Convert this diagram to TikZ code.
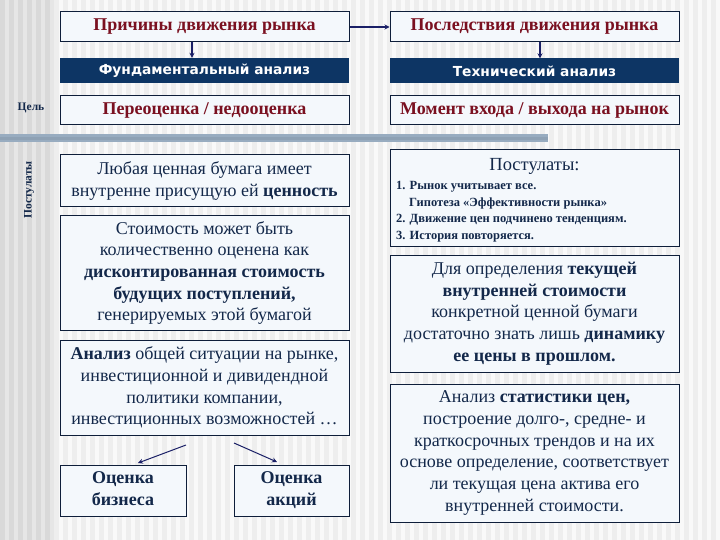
\documentclass[tikz,border=0pt]{standalone}
\usepackage{fontspec}
\setmainfont{Liberation Serif}
\newfontfamily\barfont{DejaVu Sans}
\usetikzlibrary{arrows.meta,calc}
\definecolor{navy}{HTML}{13284A}
\definecolor{linecol}{HTML}{0E1E3A}
\definecolor{darkred}{HTML}{7A1020}
\definecolor{barfill}{HTML}{0D3564}
\definecolor{arrowcol}{HTML}{1A1F66}
\definecolor{bgmain}{HTML}{EEEEEE}
\definecolor{bgleft}{HTML}{D9D9D9}
\definecolor{sepbar}{HTML}{98ACC0}
\definecolor{boxfill}{HTML}{F4F8FC}
\tikzset{
  box/.style={draw=linecol, line width=1pt, fill=boxfill, inner sep=0pt, align=center, text=navy,
              font=\fontsize{18}{21.7}\selectfont},
  titlebox/.style={box, text=darkred, font=\fontsize{18}{20}\selectfont\bfseries},
  darkbar/.style={fill=barfill, inner sep=0pt, text=white, font=\barfont\fontsize{13.8}{16}\selectfont\bfseries},
  conn/.style={draw=arrowcol, line width=1.4pt, -{Stealth[length=5pt,width=5pt]}},
  sidelabel/.style={text=navy, font=\fontsize{11.5}{13}\selectfont\bfseries, inner sep=0pt}
}
\begin{document}
\begin{tikzpicture}[x=1pt,y=-1pt]
\useasboundingbox (0,0) rectangle (720,540);
% background
\fill[bgmain] (0,0) rectangle (720,540);
\foreach \i in {0,...,79} \fill[white,opacity=0.7] (\i*9+4.5,0) rectangle ++(4.5,540);
\fill[bgleft] (0,0) rectangle (54,540);
\foreach \i in {0,...,5} \fill[white,opacity=0.35] (\i*9+4.5,0) rectangle ++(4.5,540);
\fill[sepbar] (0,134) rectangle (548,142);
\fill[sepbar!80!black,opacity=0.3] (0,137) rectangle (548,140);

% top row
\node[titlebox, minimum width=289pt, minimum height=30pt] (cause) at (204.5,27) {Причины движения рынка};
\node[titlebox, minimum width=289pt, minimum height=30pt] (effect) at (534.5,27) {Последствия движения рынка};
\node[darkbar, minimum width=289pt, minimum height=25pt] (fund) at (204.5,70.5) {Фундаментальный анализ};
\node[darkbar, minimum width=289pt, minimum height=25pt] (tech) at (534.5,71) {Технический анализ};
\node[titlebox, minimum width=289pt, minimum height=29pt] (goalL) at (204.5,110.5) {Переоценка / недооценка};
\node[titlebox, minimum width=289pt, minimum height=29pt] (goalR) at (534.5,110.5) {Момент входа / выхода на рынок};

\node[sidelabel] (goal) at (31,108) {Цель};
\node[sidelabel, rotate=90] (post) at (29,190) {Постулаты};

\draw[conn] (cause.east) -- (effect.west);
\draw[conn] ([xshift=-12.5pt]cause.south) -- ([xshift=-12.5pt]fund.north);
\draw[conn] ([xshift=5.5pt]effect.south) -- ([xshift=5.5pt]tech.north);

% left column
\node[box, minimum width=289pt, minimum height=52pt] (p1) at (204.5,181)
  {Любая ценная бумага имеет\\ внутренне присущую ей \textbf{ценность}};
\node[box, minimum width=289pt, minimum height=114pt] (p2) at (204.5,273)
  {Стоимость может быть\\ количественно оценена как\\ \textbf{дисконтированная стоимость}\\ \textbf{будущих поступлений,}\\ генерируемых этой бумагой};
\node[box, minimum width=289pt, minimum height=95pt] (p3) at (204.5,387.5)
  {\textbf{Анализ} общей ситуации на рынке,\\ инвестиционной и дивидендной\\ политики компании,\\ инвестиционных возможностей …};
\node[box, minimum width=126pt, minimum height=51pt] (biz) at (123,490.5)
  {\strut\textbf{Оценка}\\ \textbf{бизнеса}\strut};
\node[box, minimum width=115pt, minimum height=51pt] (shares) at (291.5,490.5)
  {\strut\textbf{Оценка}\\ \textbf{акций}\strut};
\coordinate (a1s) at (186,445);
\coordinate (a1e) at (138,463);
\coordinate (a2s) at (234,443);
\coordinate (a2e) at (277,462);
\draw[draw=arrowcol, line width=1pt, -{Stealth[length=5pt,width=5pt]}] (a1s) -- (a1e);
\draw[draw=arrowcol, line width=1pt, -{Stealth[length=5pt,width=5pt]}] (a2s) -- (a2e);

% right column
\node[box, minimum width=289pt, minimum height=96pt] (rp) at (534.5,198) {};
\node[text=navy, font=\fontsize{18.5}{20}\selectfont, inner sep=0pt] (rptitle) at (534.5,166) {Постулаты:};
\node[text=navy, font=\fontsize{12.5}{16.7}\selectfont\bfseries, inner sep=0pt, anchor=north west, align=left] (rplist) at (396,181)
  {1. Рынок учитывает все.\\ \hspace*{13pt}Гипотеза «Эффективности рынка»\\ 2. Движение цен подчинено тенденциям.\\ 3. История повторяется.};
\node[box, minimum width=289pt, minimum height=117pt] (rd) at (534.5,313.5)
  {Для определения \textbf{текущей}\\ \textbf{внутренней стоимости}\\ конкретной ценной бумаги\\ достаточно знать лишь \textbf{динамику}\\ \textbf{ее цены в прошлом.}};
\node[box, minimum width=289pt, minimum height=138pt] (ra) at (534.5,453)
  {Анализ \textbf{статистики цен,}\\ построение долго-, средне- и\\ краткосрочных трендов и на их\\ основе определение, соответствует\\ ли текущая цена актива его\\ внутренней стоимости.};
\end{tikzpicture}
\end{document}
